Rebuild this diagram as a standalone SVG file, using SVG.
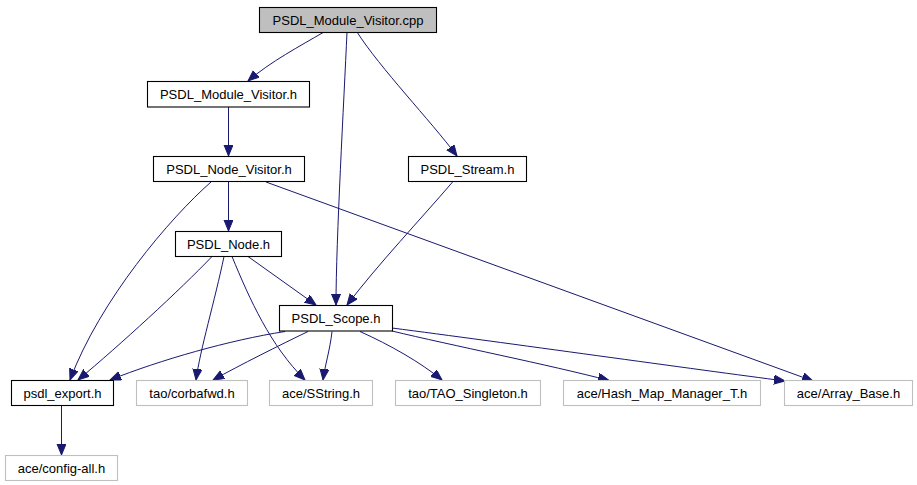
<svg xmlns="http://www.w3.org/2000/svg" width="917" height="485" viewBox="0 0 917 485">
<style>
.n rect{fill:#ffffff;stroke:#000000;stroke-width:1.1}
.n.g rect{stroke:#bfbfbf}
.n.root rect{fill:#bfbfbf}
.n text{font-family:"Liberation Sans",Arial,sans-serif;font-size:13px;fill:#000000;text-anchor:middle}
#edges path{fill:none;stroke:#191970;stroke-width:1;marker-end:url(#ah)}
</style>
<defs>
<marker id="ah" markerUnits="userSpaceOnUse" markerWidth="12" markerHeight="10" refX="11" refY="4.5" orient="auto">
<path d="M0,0 L11,4.5 L0,9 z" fill="#191970" stroke="#191970" stroke-width="1"/>
</marker>
</defs>
<rect width="917" height="485" fill="#ffffff"/>
<g id="edges">
<path d="M324,32 C300,46 270,62 248,81"/>
<path d="M347,32 C344,100 336,240 336,305"/>
<path d="M357,32 C380,68 430,120 457,156"/>
<path d="M228.5,107 L228.5,156"/>
<path d="M228.5,181.5 L228.5,231"/>
<path d="M211,182 C170,218 100,300 70,380"/>
<path d="M266,182 L813,381"/>
<path d="M212,256.5 C180,290 120,345 78,380"/>
<path d="M224,256.5 C215,300 200,350 196,380"/>
<path d="M232,256.5 C250,300 270,345 305,380"/>
<path d="M248,256.5 L316,305"/>
<path d="M453,181.5 C420,220 380,262 347,305"/>
<path d="M285,331.5 C230,340 160,360 110,380"/>
<path d="M308,331.5 C280,345 240,365 213,380"/>
<path d="M332,331.5 C330,350 325,365 323,380"/>
<path d="M360,331.5 C390,345 420,362 442,380"/>
<path d="M392,331 C450,345 550,365 609,380.5"/>
<path d="M392,328 C500,342 700,370 785,381"/>
<path d="M61.5,405.5 L61.5,455"/>
</g>
<g id="n_cpp" class="n root"><rect x="259.5" y="7.5" width="177" height="25"/><text x="348" y="24.5">PSDL_Module_Visitor.cpp</text></g>
<g id="n_modvis" class="n"><rect x="147.5" y="81.5" width="162" height="25.5"/><text x="228.5" y="99">PSDL_Module_Visitor.h</text></g>
<g id="n_nodevis" class="n"><rect x="153.5" y="156.5" width="151" height="25"/><text x="229" y="173.5">PSDL_Node_Visitor.h</text></g>
<g id="n_stream" class="n"><rect x="408.5" y="156.5" width="118" height="25"/><text x="467.5" y="173.5">PSDL_Stream.h</text></g>
<g id="n_node" class="n"><rect x="175.5" y="231.5" width="106" height="25"/><text x="228.5" y="248.5">PSDL_Node.h</text></g>
<g id="n_scope" class="n"><rect x="279.5" y="305.5" width="113" height="25.5"/><text x="336" y="323">PSDL_Scope.h</text></g>
<g id="n_export" class="n"><rect x="11.5" y="380.5" width="102" height="25"/><text x="62.5" y="397.5">psdl_export.h</text></g>
<g id="n_corba" class="n g"><rect x="136.5" y="380.5" width="111" height="25"/><text x="192" y="397.5">tao/corbafwd.h</text></g>
<g id="n_sstring" class="n g"><rect x="269.5" y="380.5" width="103" height="25"/><text x="321" y="397.5">ace/SString.h</text></g>
<g id="n_tao" class="n g"><rect x="395.5" y="380.5" width="145" height="25"/><text x="468" y="397.5">tao/TAO_Singleton.h</text></g>
<g id="n_hash" class="n g"><rect x="563.5" y="380.5" width="197" height="25"/><text x="662" y="397.5">ace/Hash_Map_Manager_T.h</text></g>
<g id="n_array" class="n g"><rect x="784.5" y="380.5" width="128" height="25"/><text x="848.5" y="397.5">ace/Array_Base.h</text></g>
<g id="n_config" class="n g"><rect x="5.5" y="455.5" width="112" height="25"/><text x="61.5" y="472.5">ace/config-all.h</text></g>
</svg>
